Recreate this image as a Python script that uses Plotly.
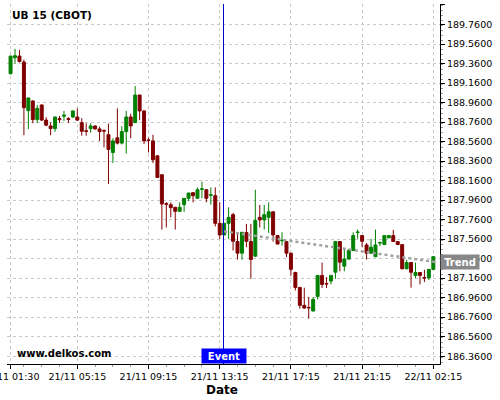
import plotly.graph_objects as go

# 15-minute candles, index 0 = 21/11 01:30
opens = [189.255, 189.42, 189.436, 189.375, 188.877, 188.976, 188.785, 188.935, 188.78, 188.72,
         188.693, 188.795, 188.82, 188.795, 188.812, 188.812, 188.754, 188.67, 188.693, 188.72,
         188.69, 188.672, 188.63, 188.448, 188.598, 188.544, 188.662, 188.812, 188.754, 189.037,
         188.874, 188.576, 188.567, 188.414, 188.22, 187.922, 187.913, 187.886, 187.845, 187.913,
         187.978, 188.036, 187.978, 188.07, 188.066, 188.01, 188.005, 187.722, 187.603, 187.722,
         187.811, 187.535, 187.416, 187.627, 187.535, 187.385, 187.783, 187.757, 187.783, 187.84,
         187.596, 187.543, 187.535, 187.416, 187.218, 187.065, 186.881, 186.86, 186.823, 186.973,
         187.188, 187.105, 187.13, 187.221, 187.535, 187.283, 187.355, 187.443, 187.628, 187.596,
         187.50, 187.416, 187.38, 187.52, 187.504, 187.573, 187.596, 187.535, 187.504, 187.256,
         187.32, 187.188, 187.218, 187.166, 187.164, 187.25]
highs = [189.44, 189.51, 189.50, 189.40, 189.01, 188.985, 188.935, 188.94, 188.81, 188.758,
         188.815, 188.823, 188.874, 188.81, 188.878, 188.90, 188.80, 188.748, 188.748, 188.725,
         188.713, 188.687, 188.745, 188.594, 188.90, 188.717, 188.874, 188.846, 189.129, 189.04,
         188.878, 188.60, 188.63, 188.42, 188.225, 187.94, 187.937, 187.89, 187.937, 187.98,
         188.035, 188.04, 188.09, 188.15, 188.07, 188.09, 188.09, 187.937, 187.725, 187.886,
         187.828, 187.63, 187.632, 187.716, 187.716, 188.066, 187.91, 187.91, 187.937, 187.845,
         187.60, 187.63, 187.54, 187.42, 187.225, 187.07, 187.062, 186.966, 186.966, 187.19,
         187.32, 187.17, 187.19, 187.54, 187.54, 187.46, 187.46, 187.63, 187.658, 187.60,
         187.52, 187.563, 187.658, 187.535, 187.60, 187.60, 187.655, 187.54, 187.51, 187.348,
         187.325, 187.32, 187.22, 187.246, 187.25, 187.385]
lows = [189.25, 189.36, 189.37, 188.625, 188.687, 188.748, 188.75, 188.77, 188.717, 188.625,
        188.66, 188.75, 188.77, 188.75, 188.80, 188.77, 188.62, 188.62, 188.65, 188.68,
        188.567, 188.50, 188.125, 188.34, 188.53, 188.53, 188.437, 188.594, 188.75, 188.78,
        188.533, 188.448, 188.34, 188.19, 187.658, 187.68, 187.783, 187.658, 187.84, 187.84,
        187.95, 187.937, 187.975, 187.98, 187.937, 187.913, 187.69, 187.563, 187.60, 187.563,
        187.443, 187.351, 187.35, 187.477, 187.154, 187.38, 187.68, 187.658, 187.624, 187.535,
        187.505, 187.494, 187.375, 187.188, 187.034, 186.847, 186.845, 186.745, 186.82, 186.942,
        187.06, 187.06, 187.096, 187.154, 187.23, 187.23, 187.35, 187.44, 187.563, 187.477,
        187.351, 187.41, 187.375, 187.49, 187.50, 187.57, 187.53, 187.50, 187.25, 187.25,
        187.062, 187.16, 187.096, 187.12, 187.14, 187.245]
closes = [189.436, 189.44, 189.38, 188.907, 189.007, 188.785, 188.90, 188.78, 188.728, 188.693,
          188.812, 188.785, 188.83, 188.787, 188.874, 188.78, 188.666, 188.665, 188.72, 188.69,
          188.662, 188.668, 188.479, 188.567, 188.544, 188.662, 188.812, 188.72, 189.037, 188.874,
          188.567, 188.572, 188.373, 188.192, 187.92, 187.918, 187.883, 187.845, 187.886, 187.978,
          188.032, 188.005, 188.066, 188.075, 187.978, 188.014, 187.722, 187.603, 187.722, 187.783,
          187.538, 187.416, 187.63, 187.538, 187.351, 187.75, 187.757, 187.811, 187.84, 187.603,
          187.51, 187.547, 187.416, 187.25, 187.065, 186.881, 186.854, 186.856, 186.942, 187.188,
          187.096, 187.101, 187.188, 187.535, 187.324, 187.355, 187.443, 187.596, 187.632, 187.538,
          187.416, 187.477, 187.50, 187.524, 187.596, 187.596, 187.535, 187.504, 187.256, 187.32,
          187.22, 187.218, 187.188, 187.162, 187.25, 187.38]
candle_idx = list(range(len(opens)))

tick_idx = [0, 15, 31, 47, 63, 79, 95]
tick_text = ['21/11 01:30', '21/11 05:15', '21/11 09:15', '21/11 13:15',
             '21/11 17:15', '21/11 21:15', '22/11 02:15']

event_x = 47.85
trend_x = [48, 95.5]
trend_y = [187.64, 187.325]

fig = go.Figure()

fig.add_trace(go.Candlestick(
    x = candle_idx,
    open = opens,
    high = highs,
    low = lows,
    close = closes,
    increasing = {'line': {'color': '#008000', 'width': 1}, 'fillcolor': '#008000'},
    decreasing = {'line': {'color': '#800000', 'width': 1}, 'fillcolor': '#800000'},
    whiskerwidth = 0,
    hoverinfo = 'skip'
))

fig.add_trace(go.Scatter(
    x = trend_x,
    y = trend_y,
    mode = 'lines',
    line = {'color': '#a0a0a0', 'width': 2.5, 'dash': 'dot'},
    hoverinfo = 'skip'
))

fig.add_shape(
    type = 'line', xref = 'x', yref = 'paper',
    x0 = event_x, x1 = event_x, y0 = 0, y1 = 1,
    line = {'color': '#0000c8', 'width': 1}
)

grid = {'showgrid': True, 'gridcolor': '#c8c8c8', 'griddash': '3px,3px', 'gridwidth': 1}
minor = {'ticks': 'outside', 'ticklen': 2, 'tickcolor': '#999999',
         'showgrid': False, 'gridcolor': 'rgba(0,0,0,0)'}

fig.update_layout({
    'width': 500,
    'height': 400,
    'showlegend': False,
    'paper_bgcolor': 'white',
    'plot_bgcolor': 'white',
    'boxgap': 0.05,
    'font': {'family': 'DejaVu Sans', 'size': 9.5, 'color': 'black'},
    'margin': {'t': 4, 'b': 36, 'l': 7, 'r': 60},
    'xaxis': {
        'range': [-0.8, 96.5],
        'rangeslider': {'visible': False},
        'tickmode': 'array',
        'tickvals': tick_idx,
        'ticktext': tick_text,
        'ticks': 'outside',
        'ticklen': 4,
        'tickcolor': 'black',
        'showline': True,
        'linecolor': 'black',
        'linewidth': 1,
        'zeroline': False,
        'ticklabeloverflow': 'allow',
        'automargin': False,
        'minor': {'tick0': 3, 'dtick': 4, **minor},
        **grid
    },
    'yaxis': {
        'side': 'right',
        'range': [186.28, 189.97],
        'tick0': 186.36,
        'dtick': 0.2,
        'tickformat': '.4f',
        'ticks': 'outside',
        'ticklen': 4,
        'tickcolor': 'black',
        'showline': True,
        'linecolor': 'black',
        'linewidth': 1,
        'zeroline': False,
        'automargin': False,
        'minor': {'dtick': 0.05, **minor},
        **grid
    },
    'annotations': [
        {'text': '<b>UB 15 (CBOT)</b>', 'xref': 'paper', 'yref': 'paper',
         'x': 0.007, 'y': 0.969, 'xanchor': 'left', 'yanchor': 'middle',
         'showarrow': False, 'font': {'size': 10.5}},
        {'text': '<b>www.delkos.com</b>', 'xref': 'paper', 'yref': 'paper',
         'x': 0.018, 'y': 0.028, 'xanchor': 'left', 'yanchor': 'middle',
         'showarrow': False, 'font': {'size': 10}},
        {'text': '<b>Date</b>', 'xref': 'paper', 'yref': 'paper',
         'x': 0.497, 'y': -0.072, 'xanchor': 'center', 'yanchor': 'middle',
         'showarrow': False, 'font': {'size': 12}},
        {'text': '<b>Event</b>', 'xref': 'x', 'yref': 'paper',
         'x': event_x, 'y': 0, 'xanchor': 'center', 'yanchor': 'bottom',
         'showarrow': False, 'bgcolor': '#0000ff', 'width': 42, 'height': 12,
         'borderpad': 1, 'font': {'size': 10, 'color': 'white'}},
        {'text': '<b>Trend</b>', 'xref': 'paper', 'yref': 'y',
         'x': 1, 'y': trend_y[-1], 'xanchor': 'left', 'yanchor': 'middle',
         'showarrow': False, 'bgcolor': '#888888', 'width': 36, 'height': 12,
         'borderpad': 1, 'font': {'size': 10, 'color': 'white'}}
    ]
})

fig.write_html('out.html', config={'displayModeBar': False},
               post_script="document.body.style.margin = '0';")
